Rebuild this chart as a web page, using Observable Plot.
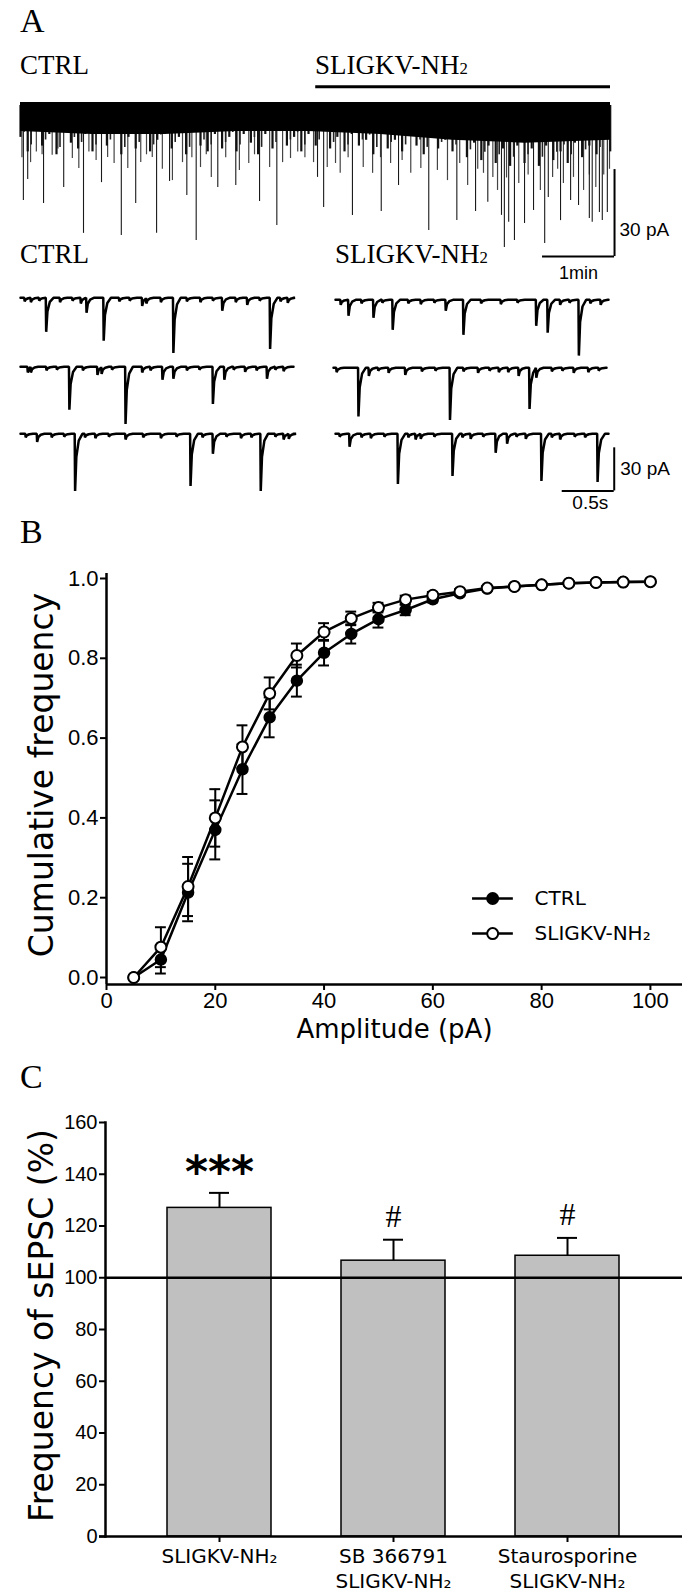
<!DOCTYPE html>
<html><head><meta charset="utf-8">
<script src="https://cdn.jsdelivr.net/npm/d3@7"></script>
<script src="https://cdn.jsdelivr.net/npm/@observablehq/plot@0.6"></script>
<style>
body{margin:0;background:#fff;}
#fig{position:relative;width:700px;height:1595px;overflow:hidden;background:#fff;}
</style></head><body><div id="fig"></div>
<script>
// ===================== DATA =====================
// Panel A (top): continuous recording; time in min, current deflection in pA (inward, drawn downward)
const bandT     = [0,1,2,3,4,5,6,7,8.194];          // solid noise band
const bandDepth = [9,10,10,9,9,10,12,13,12];
const envT = [0,0.1,0.2,0.3,0.4,0.5,0.6,0.7,0.8,0.9,1,1.1,1.2,1.3,1.4,1.5,1.6,1.7,1.8,1.9,2,2.1,2.2,2.3,2.4,2.5,2.6,2.7,2.8,2.9,
              3,3.1,3.2,3.3,3.4,3.5,3.6,3.7,3.8,3.9,4,4.1,4.2,4.3,4.4,4.5,4.6,4.7,4.8,4.9,5,5.1,5.2,5.3,5.4,5.5,5.6,5.7,5.8,5.9,
              6,6.1,6.2,6.3,6.4,6.5,6.6,6.7,6.8,6.9,7,7.1,7.2,7.3,7.4,7.5,7.6,7.7,7.8,7.9,8,8.1,8.19];
const envDepth = [11,16,9,14,10,17,9,13,15,10, 16,10,14,9,17,11,15,10,16,12, 10,15,11,17,9,14,16,10,15,11,
                  16,10,13,17,10,15,9,14,11,16, 10,14,9,15,11,16,10,14,12,17, 10,15,12,16,10,14,17,11,15,12,
                  16,12,18,13,19,14,20,15,21,14, 20,15,21,14,19,16,20,13,18,14, 17,12,16];
const longT   = [0.04,0.10,0.32,0.60,0.875,1.125,1.40,1.60,1.89,2.07,2.31,2.44,2.74,2.99,3.32,3.56,4.125,
                 4.21,4.61,5.01,5.25,5.67,6.06,6.32,6.49,6.68,6.72,6.78,6.86,7.00,7.125,7.28,7.33,7.50,7.64,7.75,7.90,7.94,8.04,8.08,8.15];
const longAmp = [32.8,25.5,33.8,28.3,44.1,26.6,44.8,33.8,44.1,26.2,31.0,46.6,28.3,27.6,33.1,41.4,24.8,
                 35.2,37.9,36.6,27.6,43.1,39.7,36.6,33.4,37.9,49.0,40.3,46.6,40.7,36.2,47.6,31.7,39.7,32.8,34.5,39.0,40.3,36.9,39.7,36.9];
const medT   = [0.02,0.14,0.22,0.30,0.44,0.52,0.72,0.81,0.95,1.05,1.21,1.30,1.49,1.67,1.75,1.83,1.97,2.11,2.25,2.38,2.5,2.58,2.65,2.85,3.04,3.17,3.25,3.46,3.64,3.75,3.85,3.95,4.07,
                4.26,4.375,4.44,4.55,4.76,4.89,5.0,5.14,5.3,5.42,5.56,5.79,5.93,6.1,6.21,6.35,6.43,6.56,6.625,6.75,6.92,7.05,7.22,7.39,7.46,7.54,7.68,7.82,7.9,7.99,8.1,8.18];
const medAmp = [18,19.7,16,17,17.2,15,18.3,21.7,16,19,17.9,20,21.7,19.7,17,17.9,22,25.9,19.7,18,21.4,17,24.8,18,22.4,20,17,21.4,19.7,18.3,16,18,19.7,
                21.4,20,23.4,18,21.4,23.4,18,20,19,23.4,21.7,22.4,25.9,20,27.6,22,23.4,24.8,29.3,25,26.9,24,29.3,24.8,22,26.9,24.8,29.3,24,28.3,24,22];
const drugStart = 4.1, drugEnd = 8.194; // min, SLIGKV-NH2 application

// Panel A (bottom): example sweeps; [time s, amplitude pA]
const ctrlRow1 = [[0.04,2.5],[0.10,3],[0.18,2],[0.247,23.8],[0.38,3],[0.50,2],[0.58,4],[0.635,10.5],[0.80,30],[0.95,2.5],[1.05,2],[1.17,5.6],[1.21,4],[1.35,3],[1.47,38.5],[1.60,2.5],[1.73,3],[1.85,2],[1.94,9],[2.07,3],[2.18,5],[2.30,2],[2.40,35.7],[2.50,2.5],[2.57,3.5]];
const ctrlRow2 = [[0.07,4],[0.10,4],[0.25,2.5],[0.35,2],[0.47,30],[0.60,2.5],[0.74,5.6],[0.78,5],[0.88,2],[1.01,40],[1.17,4],[1.25,2.5],[1.365,9],[1.47,8.4],[1.60,2.5],[1.72,2],[1.85,26],[1.96,9],[2.05,2],[2.16,3.5],[2.27,2.5],[2.37,8.4],[2.45,2],[2.53,3]];
const ctrlRow3 = [[0.05,2.5],[0.16,5.6],[0.30,2.5],[0.42,2],[0.525,40],[0.62,2.5],[0.72,3],[0.85,2],[1.01,4],[1.18,2.5],[1.35,3],[1.50,2],[1.635,36.4],[1.75,2.5],[1.85,14],[1.98,2],[2.12,3],[2.22,2.5],[2.31,40],[2.45,2],[2.53,4],[2.58,3.5]];
const sligRow1 = [[0.05,3.5],[0.125,11.2],[0.25,2.5],[0.365,12.6],[0.45,2],[0.55,21],[0.70,2.5],[0.82,3],[0.95,2],[1.06,7.7],[1.23,24.5],[1.40,2.5],[1.59,3],[1.75,2],[1.93,18.2],[2.04,23],[2.16,3.5],[2.25,2],[2.34,39],[2.45,2.5],[2.55,3.5]];
const sligRow2 = [[0.03,3],[0.24,34],[0.34,5.6],[0.43,2],[0.53,3.5],[0.69,5],[0.85,2.5],[0.98,2],[1.12,36.4],[1.25,2.5],[1.39,3.5],[1.50,2],[1.59,3],[1.68,3],[1.78,5.6],[1.885,28.7],[1.95,7],[2.10,2.5],[2.20,2],[2.31,3.5],[2.45,3],[2.55,2]];
const sligRow3 = [[0.04,2],[0.135,9],[0.25,2.5],[0.34,3],[0.47,2],[0.60,35],[0.70,2.5],[0.77,4],[0.82,3.5],[0.95,2],[1.125,29.4],[1.22,2.5],[1.30,3.5],[1.42,2],[1.54,13.3],[1.65,7],[1.74,2],[1.83,3.5],[1.98,33],[2.08,2.5],[2.16,4],[2.30,2],[2.40,2.5],[2.52,33.6]];

// Panel B: cumulative amplitude distribution
const ampBins  = [5,10,15,20,25,30,35,40,45,50,55,60,65,70,75,80,85,90,95,100];
const ctrlMean = [0,0.045,0.213,0.370,0.522,0.652,0.744,0.814,0.861,0.898,0.921,0.948,0.963,0.975,0.980,0.984,0.988,0.990,0.991,0.992];
const ctrlSem  = [0,0.035,0.072,0.074,0.062,0.050,0.040,0.032,0.024,0.021,0.013,0.008,0.006,0.004,0.003,0.003,0.002,0.002,0.002,0.001];
const sligMean = [0,0.076,0.228,0.400,0.578,0.712,0.807,0.866,0.900,0.927,0.947,0.958,0.967,0.976,0.980,0.984,0.988,0.990,0.991,0.992];
const sligSem  = [0,0.050,0.074,0.072,0.054,0.040,0.030,0.022,0.017,0.012,0.010,0.008,0.006,0.004,0.003,0.003,0.002,0.002,0.002,0.001];
const seriesNames = ["CTRL", "SLIGKV-NH\u2082"];

// Panel C: sEPSC frequency (% of control)
const groups   = ["SLIGKV-NH\u2082", "SB 366791\nSLIGKV-NH\u2082", "Staurosporine\nSLIGKV-NH\u2082"];
const freqMean = [127.0, 106.6, 108.5];
const freqSem  = [5.8, 8.1, 6.9];
const signif   = ["***", "#", "#"];

// ===================== HELPERS =====================
const fig = document.getElementById("fig");
function place(node, left, top) {
  node.style.position = "absolute"; node.style.left = left + "px"; node.style.top = top + "px";
  node.style.maxWidth = "none";
  fig.appendChild(node);
}
const SANS = "'Liberation Sans', Arial, sans-serif";
const GOTH = "'DejaVu Sans', sans-serif";
const SERIF = "'Liberation Serif', 'Times New Roman', serif";
const baseStyle = {background: "transparent", overflow: "visible", fontFamily: SANS};
const K = () => 0;

function tracePoints(ev, tEnd) {
  const e = [...ev].sort((p, q) => p[0] - q[0]);
  const pts = [{t: 0, v: 0}];
  e.forEach(([t, a], i) => {
    const next = i + 1 < e.length ? e[i + 1][0] - 0.004 : Infinity;
    pts.push({t: t - 0.004, v: 0}, {t, v: -a});
    [[0.012, 0.4], [0.035, 0.12], [0.07, 0]].forEach(([dt, f]) => { if (t + dt < next) pts.push({t: t + dt, v: -a * f}); });
  });
  pts.push({t: tEnd, v: 0});
  return pts;
}

// ===================== PANEL A: top trace =====================
const band = bandT.map((t, i) => ({t, d: bandDepth[i]}));
const forest = envT.map((t, i) => ({t, a: envDepth[i]}));
const longEv = longT.map((t, i) => ({t, a: longAmp[i]}));
const medEv = medT.map((t, i) => ({t, a: medAmp[i]}));
const topPlot = Plot.plot({
  width: 700, height: 290, marginLeft: 20, marginRight: 90, marginTop: 0, marginBottom: 0,
  style: baseStyle,
  x: {domain: [0, 8.194], axis: null},
  y: {domain: [-63.8, 36.2], axis: null},
  marks: [
    Plot.ruleX(medEv, {x: "t", y1: K, y2: d => -d.a, stroke: "#444", strokeWidth: 1.2}),
    Plot.ruleX(longEv, {x: "t", y1: K, y2: d => -d.a, stroke: "#1a1a1a", strokeWidth: 1.1}),
    Plot.ruleX(forest, {x: "t", y1: K, y2: d => -d.a, stroke: "#111", strokeWidth: 2.2}),
    Plot.ruleX(forest.filter(d => d.t < 8.15), {x: "t", y1: K, y2: d => -d.a * 0.85, dx: 3.5, stroke: "#222", strokeWidth: 1.6}),
    Plot.areaY(band, {x: "t", y1: () => 1, y2: d => -d.d, fill: "black"}),
    Plot.ruleY([6.5], {x1: () => drugStart, x2: () => drugEnd, strokeWidth: 3}),
    Plot.ruleX([8.25], {y1: () => -22.1, y2: () => -52.1, strokeWidth: 2}),
    Plot.ruleY([-52.1], {x1: () => 7.25, x2: () => 8.25, strokeWidth: 2}),
    Plot.text(["30 pA"], {x: () => 8.25, y: () => -43, dx: 5, textAnchor: "start", fontSize: 19, fontFamily: SANS}),
    Plot.text(["1min"], {x: () => 7.75, y: () => -57.9, fontSize: 18, fontFamily: SANS})
  ]
});
place(topPlot, 0, 0);

// ===================== PANEL A: example sweeps =====================
function sweep(events, left, baseline, extra = []) {
  const p = Plot.plot({
    width: 380, height: 95, marginLeft: 0, marginRight: 107, marginTop: 0, marginBottom: 0,
    style: baseStyle,
    x: {domain: [0, 2.625], axis: null},
    y: {domain: [-56.4, 10], axis: null},
    marks: [Plot.line(tracePoints(events, 2.625), {x: "t", y: "v", strokeWidth: 2.5, strokeLinejoin: "miter"}), ...extra]
  });
  place(p, left, baseline - 14.3);
}
sweep(ctrlRow1, 20, 297); sweep(ctrlRow2, 20, 366); sweep(ctrlRow3, 20, 433);
sweep(sligRow1, 335, 299); sweep(sligRow2, 333, 367);
sweep(sligRow3, 335, 433, [
  Plot.ruleX([2.68], {y1: () => -9.8, y2: () => -39.9, strokeWidth: 2}),
  Plot.ruleY([-39.9], {x1: () => 2.18, x2: () => 2.68, strokeWidth: 2}),
  Plot.text(["30 pA"], {x: () => 2.68, y: () => -24.5, dx: 6, textAnchor: "start", fontSize: 19, fontFamily: SANS}),
  Plot.text(["0.5s"], {x: () => 2.45, y: () => -48.3, fontSize: 19, fontFamily: SANS})
]);

// ===================== PANEL B =====================
const bData = ampBins.flatMap((a, i) => [
  {amp: a, m: ctrlMean[i], s: ctrlSem[i], g: seriesNames[0]},
  {amp: a, m: sligMean[i], s: sligSem[i], g: seriesNames[1]}
]);
const caps = bData.filter(d => d.s > 0).flatMap(d => [{amp: d.amp, y: d.m - d.s}, {amp: d.amp, y: d.m + d.s}]);
const legendItems = seriesNames.map((g, i) => ({g, y: [0.198, 0.110][i], fill: ["black", "white"][i]}));
const bPlot = Plot.plot({
  width: 700, height: 520, marginLeft: 106, marginRight: 18, marginTop: 33, marginBottom: 76,
  style: baseStyle,
  x: {domain: [0, 105.9], axis: null},
  y: {domain: [-0.0175, 1.0125], axis: null},
  marks: [
    Plot.ruleX([0], {y1: () => -0.0175, y2: () => 1.0125, strokeWidth: 2.5}),
    Plot.ruleY([-0.0175], {strokeWidth: 2.5}),
    Plot.axisY({ticks: [0, 0.2, 0.4, 0.6, 0.8, 1.0], tickFormat: d3.format(".1f"), tickSize: 6, tickPadding: 2, fontSize: 22, strokeWidth: 2, label: null}),
    Plot.axisX({ticks: [0, 20, 40, 60, 80, 100], tickSize: 6, tickPadding: 2, fontSize: 22, strokeWidth: 2, anchor: "bottom", label: null}),
    Plot.ruleX(bData.filter(d => d.s > 0), {x: "amp", y1: d => d.m - d.s, y2: d => d.m + d.s, strokeWidth: 2}),
    Plot.ruleY(caps, {y: "y", x1: d => d.amp - 1, x2: d => d.amp + 1, strokeWidth: 2}),
    Plot.line(bData, {x: "amp", y: "m", z: "g", strokeWidth: 2.5}),
    Plot.dot(bData.filter(d => d.g === seriesNames[0]), {x: "amp", y: "m", r: 5.5, fill: "black", stroke: "black", strokeWidth: 1.5}),
    Plot.dot(bData.filter(d => d.g === seriesNames[1]), {x: "amp", y: "m", r: 5.5, fill: "white", stroke: "black", strokeWidth: 2}),
    // legend
    Plot.ruleY(legendItems, {y: "y", x1: () => 67.3, x2: () => 74.8, strokeWidth: 2.5}),
    Plot.dot(legendItems, {x: () => 71, y: "y", r: 5.5, fill: "fill", stroke: "black", strokeWidth: 2}),
    Plot.text(legendItems, {x: () => 78.7, y: "y", text: "g", textAnchor: "start", fontSize: 20, fontFamily: GOTH}),
    Plot.text(["Cumulative frequency"], {frameAnchor: "left", textAnchor: "middle", dx: -64, dy: -4, rotate: -90, fontSize: 33, fontFamily: GOTH}),
    Plot.text(["Amplitude (pA)"], {frameAnchor: "bottom", textAnchor: "middle", dy: 53, fontSize: 26, fontFamily: GOTH})
  ]
});
place(bPlot, 0, 540);

// ===================== PANEL C =====================
const cData = groups.map((g, i) => ({g, m: freqMean[i], s: freqSem[i], sig: signif[i]}));
const cPlot = Plot.plot({
  width: 700, height: 505, marginLeft: 105, marginRight: 18, marginTop: 32, marginBottom: 59,
  style: baseStyle,
  x: {domain: groups, paddingInner: 0.4, paddingOuter: 0.349, axis: null},
  y: {domain: [0, 160], axis: null},
  marks: [
    Plot.barY(cData, {x: "g", y: "m", fill: "#c0c0c0", stroke: "black", strokeWidth: 1.5}),
    Plot.ruleX(cData, {x: "g", y1: "m", y2: d => d.m + d.s, strokeWidth: 2}),
    Plot.tickY(cData, {x: "g", y: d => d.m + d.s, insetLeft: 42, insetRight: 42, strokeWidth: 2}),
    Plot.ruleY([100], {strokeWidth: 2.5}),
    Plot.ruleY([0], {strokeWidth: 2.5, insetLeft: -6}),
    Plot.frame({anchor: "left", strokeWidth: 2.5}),
    Plot.axisY({ticks: d3.range(0, 161, 20), tickSize: 6, tickPadding: 2, fontSize: 20, strokeWidth: 2, label: null}),
    Plot.axisX({tickSize: 6, tickPadding: 3, fontSize: 20, fontFamily: GOTH, lineHeight: 1.25, strokeWidth: 2, label: null}),
    Plot.text(cData.filter(d => d.sig === "***"), {x: "g", y: d => d.m + d.s, text: "sig", dy: -20, fontSize: 44, fontWeight: "bold", fontFamily: GOTH, fill: "black"}),
    Plot.text(cData.filter(d => d.sig !== "***"), {x: "g", y: d => d.m + d.s, text: "sig", dy: -23, fontSize: 32, fontFamily: SERIF}),
    Plot.text(["Frequency of sEPSC (%)"], {frameAnchor: "left", textAnchor: "middle", dx: -63, dy: -4, rotate: -90, fontSize: 33, fontFamily: GOTH})
  ]
});
place(cPlot, 0, 1090);

// ===================== LABELS (panel letters & conditions) =====================
const lab = d3.create("svg").attr("width", 700).attr("height", 1595)
  .style("position", "absolute").style("left", "0px").style("top", "0px").style("pointer-events", "none");
const labels = [
  {t: "A", x: 20, y: 32, s: 34}, {t: "B", x: 20, y: 543, s: 34}, {t: "C", x: 20, y: 1088, s: 34},
  {t: "CTRL", x: 20, y: 74, s: 27}, {t: "SLIGKV-NH", sub: "2", x: 315, y: 74, s: 27},
  {t: "CTRL", x: 20, y: 263, s: 27}, {t: "SLIGKV-NH", sub: "2", x: 335, y: 263, s: 27}
];
for (const L of labels) {
  const tx = lab.append("text").attr("x", L.x).attr("y", L.y).attr("font-family", SERIF).attr("font-size", L.s).text(L.t);
  if (L.sub) tx.append("tspan").attr("font-size", L.s * 0.62).text(L.sub);
}
fig.appendChild(lab.node());
</script></body></html>
